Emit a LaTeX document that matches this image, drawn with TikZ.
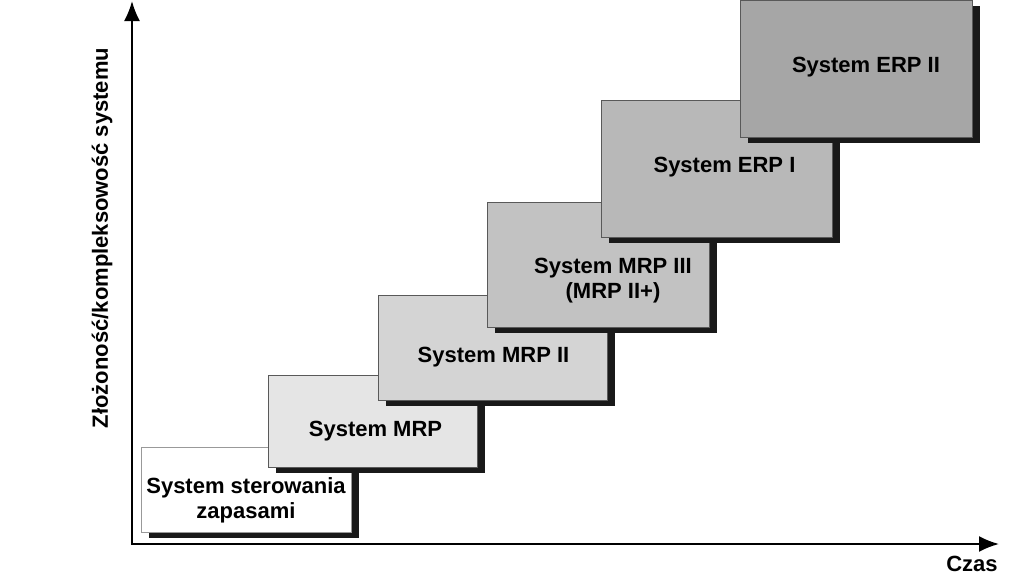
\documentclass[tikz,border=0pt]{standalone}
\usepackage{fontspec}
\setmainfont{Liberation Sans}
\usetikzlibrary{arrows.meta,shadows}

\tikzset{
  stage/.style={rectangle, draw=black!65, line width=0.8pt, inner sep=0pt,
    drop shadow={shadow xshift=8pt, shadow yshift=-6pt, fill=black!90, opacity=1}},
  caption/.style={align=center, font=\fontsize{22}{25}\selectfont\bfseries},
  axis/.style={line width=2pt, {Latex[length=20pt,width=16pt]}-{Latex[length=20pt,width=16pt]}}
}

\begin{document}
\begin{tikzpicture}[x=1pt,y=-1pt]
\useasboundingbox (0,0) rectangle (1023,576);

% axes
\coordinate (O) at (132,544);
\coordinate (ytop) at (132,1);
\coordinate (xend) at (999,544);
\draw [axis] (ytop)--(O)--(xend);
\node [caption, rotate=90] (ylab) at (102,238) {Złożoność/kompleksowość systemu};
\node [caption] (xlab) at (972,564) {Czas};

% stages
\node [stage, draw=black!40, fill=white, minimum width=210pt, minimum height=85pt] (b1) at (246,489.5) {};
\node [caption] (t1) at ([shift={(0,11)}]b1.center) {System sterowania\\zapasami};

\node [stage, fill=black!10, minimum width=209pt, minimum height=92pt] (b2) at (372.5,421) {};
\node [caption] (t2) at ([shift={(3,10)}]b2.center) {System MRP};

\node [stage, fill=black!17, minimum width=229pt, minimum height=105pt] (b3) at (492.5,347.5) {};
\node [caption] (t3) at ([shift={(1,10)}]b3.center) {System MRP II};

\node [stage, fill=black!24, minimum width=222pt, minimum height=125pt] (b4) at (598,264.5) {};
\node [caption] (t4) at ([shift={(15,16)}]b4.center) {System MRP III\\(MRP II+)};

\node [stage, fill=black!28, minimum width=231pt, minimum height=137pt] (b5) at (716.5,168.5) {};
\node [caption] (t5) at ([shift={(8,-1)}]b5.center) {System ERP I};

\node [stage, fill=black!35, minimum width=232pt, minimum height=137pt] (b6) at (856,68.5) {};
\node [caption] (t6) at ([shift={(10,-1)}]b6.center) {System ERP II};
\end{tikzpicture}
\end{document}
